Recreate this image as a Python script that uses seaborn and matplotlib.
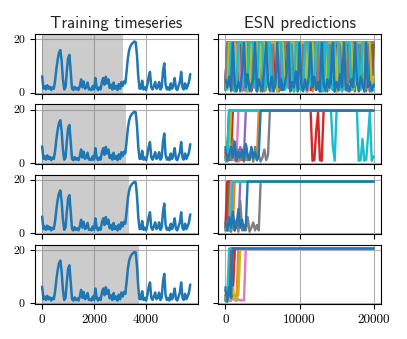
import numpy as np
import pandas as pd
import matplotlib
matplotlib.use("Agg")
import matplotlib.pyplot as plt
import seaborn as sns

# ---------------- data ----------------
titles = ["Training timeseries", "ESN predictions"]
train_step = 50
train_series = [6.2, 1.5, 2.5, 1.2, 2.8, 1.5, 2.2, 1.0, 2.0, 1.5,
                4.5, 9.0, 12.5, 15.0, 16.0, 12.0, 5.0, 1.2, 2.0, 8.0,
                13.0, 14.2, 8.0, 1.5, 1.0, 2.2, 1.2, 1.8, 1.0, 2.5,
                5.0, 2.0, 4.2, 1.5, 2.0, 3.8, 1.2, 1.5, 1.0, 2.5,
                1.2, 5.5, 2.0, 1.0, 2.0, 1.2, 4.0, 5.5, 3.0, 6.0,
                3.5, 5.0, 1.8, 3.0, 1.2, 3.8, 1.5, 2.5, 1.0, 3.2,
                1.5, 4.0, 2.5, 4.2, 3.5, 8.0, 13.0, 16.0, 17.5, 18.3,
                18.8, 19.2, 19.0, 14.0, 6.0, 1.5, 1.5, 4.5, 1.2, 2.0,
                1.0, 3.0, 6.0, 7.8, 2.0, 1.2, 2.5, 4.0, 1.5, 2.0,
                4.0, 1.2, 2.0, 8.0, 11.0, 3.0, 1.2, 2.0, 1.0, 3.5,
                1.5, 3.0, 5.5, 1.5, 1.0, 2.5, 4.0, 7.8, 2.0, 1.2,
                3.5, 1.5, 2.5, 4.0, 7.0]
train_span_end = [3120, 3230, 3330, 3730]

pred_t_max = 20000
run_colors = ["#1f77b4", "#ff7f0e", "#2ca02c", "#d62728", "#9467bd", "#8c564b",
              "#e377c2", "#7f7f7f", "#bcbd22", "#17becf", "#1f77b4"]

H = 18.8
row1 = [
    [4, H, H, H, 1, 3, H, H, H, H, 2, H, H, H, 0.5, H, H, H, H, 3, 1, H, H, H, H, H, 2, H, H, H, 1, H, H, H, H, 4, H, H, H, 0.5, 2, H, H, H, H, H, 1, H, H, H, 3, H, H, H, H, 0.5, H, H, H, H, 2, 5, H, H, H, 1, H, H, H, H, H, 3, H, H, H, 0.5, H, H, H, H, 2],
    [2, 5, H, H, H, H, 1, H, H, H, 2, 0.5, H, H, H, H, H, 3, H, H, H, H, 1, H, H, H, 0.5, 4, H, H, H, H, 2, H, H, H, H, H, 1, H, H, H, 3, H, H, H, H, 0.5, 2, H, H, H, H, 1, H, H, H, H, H, 4, H, H, H, 0.5, H, H, H, H, 2, 1, H, H, H, H, 3, H, H, H, H, 0.5, H],
    [1, H, H, 2, H, H, H, H, 0.5, 3, H, H, H, H, 1, H, H, H, 4, H, H, H, H, H, 0.5, H, H, H, 2, 1, H, H, H, H, 3, H, H, H, H, 0.5, H, H, H, 2, H, H, H, H, H, 1, 4, H, H, H, 0.5, H, H, H, H, 2, H, H, H, 1, H, H, H, H, H, 3, 0.5, H, H, H, 2, H, H, H, H, 1, H],
    [3, H, H, H, H, 0.5, H, H, H, 2, H, H, H, H, 1, 5, H, H, H, H, 0.5, H, H, H, H, H, 2, H, H, H, 3, 1, H, H, H, H, H, 0.5, H, H, H, 2, H, H, H, H, 1, H, H, H, H, 3, 0.5, H, H, H, H, 2, H, H, H, H, H, 1, H, H, H, 4, H, H, H, H, 0.5, 2, H, H, H, H, 1, H, H],
    [2, H, H, H, 3, H, H, H, H, 1, H, H, H, 0.5, 2, H, H, H, H, H, 1, H, H, H, 3, H, H, H, H, 0.5, H, H, H, H, 2, 1, H, H, H, H, 4, H, H, H, 0.5, H, H, H, H, H, 2, H, H, H, 1, 3, H, H, H, H, 0.5, H, H, H, H, 2, H, H, H, 1, H, H, H, H, H, 3, 0.5, H, H, H, H],
    [1, 4, H, H, H, H, H, 2, H, H, H, H, 0.5, H, H, H, 3, 1, H, H, H, H, 2, H, H, H, H, H, 0.5, H, H, H, 4, H, H, H, H, 1, 2, H, H, H, H, H, 0.5, H, H, H, 3, H, H, H, H, 1, H, H, H, H, 2, 0.5, H, H, H, H, H, 3, H, H, H, 1, H, H, H, H, 2, H, H, H, 0.5, 4, H],
    [3, H, H, H, H, 1, H, H, 2, 0.5, H, H, H, H, H, 2, H, H, H, 1, H, H, H, H, 3, 0.5, H, H, H, H, H, 2, H, H, H, 1, H, H, H, H, 4, H, H, H, 0.5, 1, H, H, H, H, H, 2, H, H, H, H, 1, H, H, H, 3, 0.5, H, H, H, H, 2, H, H, H, H, H, 1, H, H, H, 2, H, H, H, H],
    [2, H, H, 0.5, 3, H, H, H, H, H, 1, H, H, H, H, 2, H, H, H, 0.5, 4, H, H, H, H, 1, H, H, H, H, H, 3, H, H, H, 0.5, H, H, H, H, 2, 1, H, H, H, H, H, 4, H, H, H, 0.5, H, H, H, H, 2, H, H, H, 1, 3, H, H, H, H, 0.5, H, H, H, H, H, 2, H, H, H, 1, H, H, H, H],
    [5, 1, H, H, H, H, 3, H, H, H, H, H, 0.5, 2, H, H, H, H, 1, H, H, H, 3, H, H, H, H, H, 0.5, H, H, H, 2, 4, H, H, H, H, 1, H, H, H, H, H, 0.5, H, H, H, 2, H, H, H, H, 3, 1, H, H, H, H, H, 0.5, H, H, H, 2, H, H, H, H, 1, 4, H, H, H, H, 0.5, H, H, H, 2, 6],
    [1, 2, 4, H, H, 0.5, 3, H, H, H, 3, 1, 5, H, H, H, 2, 0.5, H, H, H, 0.5, 4, H, H, 1, 1, 4, H, H, H, 6, 1, 2, H, H, 3, 0.5, H, H, 5, 1, 1, H, H, H, 3, 2, 6, H, H, H, 1, 0.5, H, H, 4, 2, 1, H, H, H, 2, 0.5, 5, H, H, H, 1, 3, H, H, 6, 1, H, H, H, 4, 2, 0.5, 1],
    [5, 2, 6, 1, H, 3, 0.5, 4, 1, 8, H, 2, 7, 1, 3, 5, H, 0.5, 5, 2, 1, 9, H, 4, 1, 6, 0.5, 3, H, 2, 5, 1, 3, 7, H, 0.5, 4, 2, 8, 1, H, 3, 0.5, 5, 1, 6, H, 2, 6, 1, 4, 0.5, H, 3, 1, 5, 2, 7, H, 0.5, 4, 1, 7, 2, H, 1, 3, 0.5, 5, 2, H, 4, 1, 6, 3, 0.5, H, 2, 4, 1, 3],
]

L2 = 19.6
row2 = [
    [6, 2] + [L2] * 79,
    [3, 1, 4, 2, 5, 1, 3, 0.5, 4, 2, 6, 1, 3, 2, 5, 1, 3, 2] + [L2] * 63,
    [2, 5] + [L2] * 79,
    [4, 1, 6, 2] + [L2] * 43 + [0.8, 1.0, 12, 19, 1, 0.8] + [L2] * 28,
    [3, 1, 5, 2, 7, 1, 4, 2, 6, 1, 3] + [L2] * 70,
    [2, 4, 1] + [L2] * 78,
    [1, 5, 2, 7, 1, 3, 2] + [L2] * 74,
    [2, 0.5, 4, 1, 9, 2, 0.5, 5, 1, 3, 0.5, 7, 1, 2, 4, 0.5, 6, 1, 3, 0.5, 2, 5, 1, 3] + [L2] * 57,
    [3, 1, 4] + [L2] * 78,
    [1, 2] + [L2] * 56 + [6, 0.8] + [L2] * 12 + [0.8, 1.0, 9, 0.8, 1.2, 10, 19.4, 0.8, 2.5],
    [5, 1, 3, 6, 2, 8, 1, 4, 2, 5, 1, 7, 3, 1, 6, 2, 4, 1, 3] + [L2] * 62,
]

L3 = 19.3
row3 = [
    [3, 1] + [L3] * 79,
    [2, 4, 1, 6, 2] + [L3] * 76,
    [1, 3] + [L3] * 79,
    [2] + [L3] * 80,
    [3, 1, 5, 2, 7, 1, 4, 2] + [L3] * 73,
    [2, 5, 1] + [L3] * 78,
    [1, 4, 2] + [L3] * 78,
    [2, 1, 4, 0.5, 3, 1, 5, 0.5, 12, 1, 3, 1, 6, 0.5, 2, 4, 1, 3, 1] + [L3] * 62,
    [3, 1, 6, 2] + [L3] * 77,
    [1, 2, 1, 3] + [L3] * 77,
    [4, 1, 6, 2, 8, 1, 3, 9, 2, 5, 1, 3] + [L3] * 69,
]

L4 = 20.5
row4 = [
    [6, 0.5, 5, 1, 7] + [L4] * 76,
    [2, 4, 1, 5, 2, 3, 1] + [L4] * 74,
    [1, 3, 2] + [L4] * 78,
    [3, 1, 5, 2, 4] + [L4] * 76,
    [2, 5, 1, 3] + [L4] * 77,
    [1, 4, 2] + [L4] * 78,
    [3, 1, 4, 1, 2, 1.2, 1, 1.5, 1, 1.2, 1] + [L4] * 70,
    [2, 6, 1, 4] + [L4] * 77,
    [2, 5, 1, 3, 6, 1, 2, 3] + [L4] * 73,
    [1, 2] + [L4] * 79,
    [5, 1, 6, 2] + [L4] * 77,
]
pred_rows = [row1, row2, row3, row4]

# ---------------- style ----------------
sns.set_theme(style="ticks")
plt.rcParams.update({
    "axes.grid": True,
    "grid.color": "#b0b0b0",
    "grid.linewidth": 0.8,
    "axes.edgecolor": "black",
    "axes.linewidth": 0.8,
    "xtick.color": "black",
    "ytick.color": "black",
    "xtick.major.size": 3.5,
    "ytick.major.size": 3.5,
    "xtick.major.width": 0.8,
    "ytick.major.width": 0.8,
    "axes.facecolor": "white",
    "figure.facecolor": "white",
})
plt.rcParams["font.family"] = ["DejaVu Sans"]

fig, axes = plt.subplots(4, 2, figsize=(4.07, 3.39), dpi=100)
fig.subplots_adjust(left=0.0853, right=0.9361, top=0.8988, bottom=0.1024,
                    wspace=0.125, hspace=0.18)

train_t = np.arange(len(train_series)) * train_step
palette = {f"r{i}": c for i, c in enumerate(run_colors)}

for r in range(4):
    axL = axes[r, 0]
    axR = axes[r, 1]
    axL.axvspan(0, train_span_end[r], color="gray", alpha=0.4, lw=0, zorder=1.5)
    sns.lineplot(x=train_t, y=train_series, ax=axL, color="#1f77b4",
                 linewidth=1.8, zorder=3)
    frames = []
    for i, vals in enumerate(pred_rows[r]):
        t = np.linspace(0, pred_t_max, len(vals))
        frames.append(pd.DataFrame({"t": t, "v": vals, "run": f"r{i}"}))
    df = pd.concat(frames, ignore_index=True)
    sns.lineplot(data=df, x="t", y="v", hue="run", palette=palette,
                 estimator=None, sort=False, legend=False, linewidth=1.7,
                 ax=axR, zorder=3)

    for ax in (axL, axR):
        ax.set_ylim(-0.4, 21.9)
        ax.set_yticks([0, 20])
        ax.set_xlabel("")
        ax.set_ylabel("")
        for s in ax.spines.values():
            s.set_visible(True)
            s.set_color("black")
        ax.set_axisbelow(True)
    axL.set_xticks([0, 2000, 4000])
    axR.set_xticks([0, 10000, 20000])
    axL.tick_params(axis="y", labelsize=8.5, labelfontfamily="cmr10", pad=3.5)
    axR.tick_params(axis="y", labelleft=False)
    for ax in (axL, axR):
        ax.tick_params(axis="x", labelsize=9.5, labelfontfamily="cmr10",
                       labelbottom=(r == 3))

axes[0, 0].set_title(titles[0], fontsize=12, family="cmss10", pad=4.5)
axes[0, 1].set_title(titles[1], fontsize=12, family="cmss10", pad=4.5)

fig.savefig("out.png", dpi=100)
